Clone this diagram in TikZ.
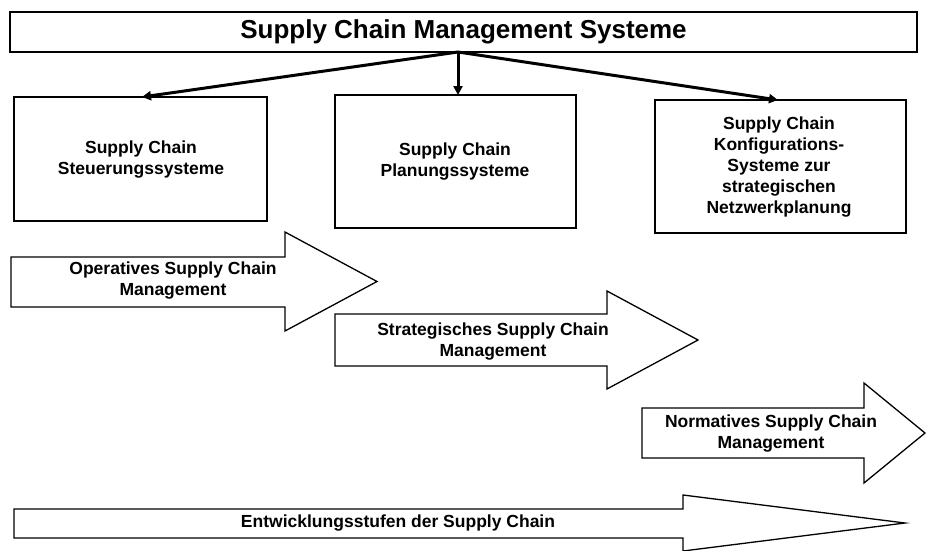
\documentclass[tikz,border=0pt]{standalone}
\usepackage{fontspec}
\setmainfont{Liberation Sans}
\usetikzlibrary{arrows.meta}
\begin{document}
\begin{tikzpicture}[x=1pt,y=-1pt,
  box/.style={draw=black,line width=1.3pt,fill=white,inner sep=0pt},
  txt/.style={font=\bfseries\fontsize{17.5}{21}\selectfont,align=center,inner sep=0pt},
  bigarrow/.style={draw=black,line width=1.3pt,fill=white,line join=miter},
  conn/.style={line width=3pt,-{Triangle[length=9pt,width=9pt]}}]
\useasboundingbox (0,0) rectangle (927,550);
% title
\node[box,minimum width=907pt,minimum height=40pt,font=\bfseries\fontsize{26}{30}\selectfont] (title) at (463.5,32) {Supply Chain Management Systeme};
% boxes
\node[box,minimum width=253pt,minimum height=124pt] (b1) at (140.5,159) {};
\node[box,minimum width=241pt,minimum height=133pt] (b2) at (455.5,161.5) {};
\node[box,minimum width=251pt,minimum height=133pt] (b3) at (780.5,166.5) {};
\node[txt] (t1) at (141,160) {Supply Chain\\Steuerungssysteme};
\node[txt] (t2) at (455,162) {Supply Chain\\Planungssysteme};
\node[txt] (t3) at (779,167) {Supply Chain\\Konfigurations-\\Systeme zur\\strategischen\\Netzwerkplanung};
% connectors
\coordinate (src) at (458,52);
\coordinate (e1) at (142,97);
\coordinate (e2) at (458,95);
\coordinate (e3) at (778,100);
\draw[conn] (src) -- (e1);
\draw[conn] (src) -- (e2);
\draw[conn] (src) -- (e3);
% block arrows
\draw[bigarrow] (11,257) -- (285,257) -- (285,232) -- (377,281.5) -- (285,331) -- (285,307) -- (11,307) -- cycle;
\node[txt] (a1) at (173,281) {Operatives Supply Chain\\Management};
\draw[bigarrow] (335,314) -- (607,314) -- (607,291) -- (698,340) -- (607,389) -- (607,366) -- (335,366) -- cycle;
\node[txt] (a2) at (493,342) {Strategisches Supply Chain\\Management};
\draw[bigarrow] (642,408) -- (864,408) -- (864,383) -- (925,433) -- (864,483) -- (864,458) -- (642,458) -- cycle;
\node[txt] (a3) at (771,434) {Normatives Supply Chain\\Management};
\draw[bigarrow] (14,509) -- (683,509) -- (683,495) -- (905,523) -- (683,551) -- (683,538) -- (14,538) -- cycle;
\node[txt] (a4) at (398,523) {Entwicklungsstufen der Supply Chain};
\end{tikzpicture}
\end{document}
